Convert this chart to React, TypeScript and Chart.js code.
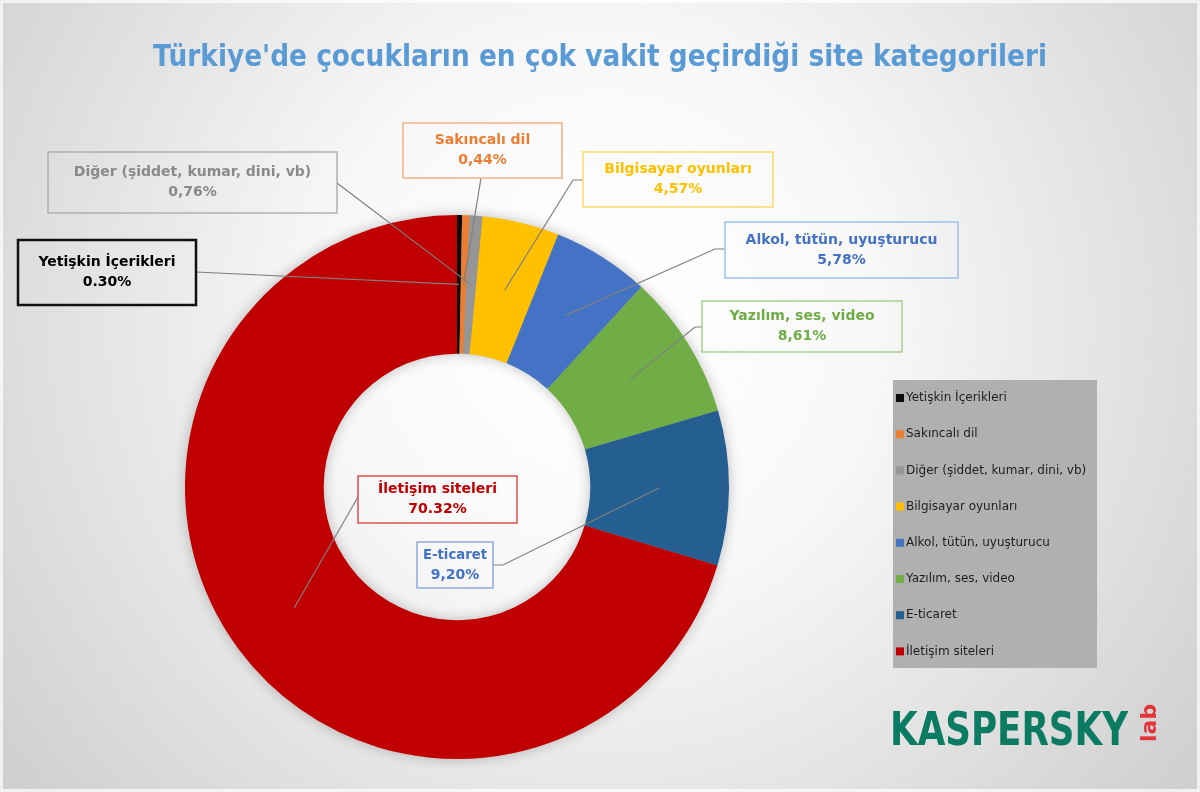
import React, { useEffect, useRef } from "react";
import { Chart, registerables } from "chart.js";

Chart.register(...registerables);

// ---------- data ----------
const chartTitle = "Türkiye'de çocukların en çok vakit geçirdiği site kategorileri";
const categories = [
  "Yetişkin İçerikleri",
  "Sakıncalı dil",
  "Diğer (şiddet, kumar, dini, vb)",
  "Bilgisayar oyunları",
  "Alkol, tütün, uyuşturucu",
  "Yazılım, ses, video",
  "E-ticaret",
  "İletişim siteleri",
];
const shares = [0.3, 0.44, 0.76, 4.57, 5.78, 8.61, 9.2, 70.32];
const decimalMarks = [".", ",", ",", ",", ",", ",", ",", "."];

// ---------- styles ----------
const sliceColors = ["#0d0d0d", "#ED7D31", "#969696", "#FFC000", "#4472C4", "#70AD47", "#255E91", "#C00000"];
const labelTextColors = ["#000000", "#ED7D31", "#8a8a8a", "#FFC000", "#4472C4", "#70AD47", "#4472C4", "#C00000"];
const labelBorderColors = ["#111111", "#F4B183", "#b0b0b0", "#FFD966", "#9DC3E6", "#A9D18E", "#8FAADC", "#E05050"];
const labelBorderWidths = [2.5, 1.5, 1.5, 1.5, 1.5, 1.5, 1.5, 1.5];
// callout boxes: [left, top, right, bottom]
const labelBoxes = [
  [18, 240, 196, 305],
  [403, 123, 562, 178],
  [48, 152, 337, 213],
  [583, 152, 773, 207],
  [725, 222, 958, 278],
  [702, 301, 902, 352],
  [417, 542, 493, 588],
  [358, 476, 517, 523],
];
// leader line anchor on box: [x, y, elbowX]
const leaderAnchors = [
  [196, 272, 196],
  [481, 178, 481],
  [337, 183, 337],
  [583, 180, 573],
  [725, 249, 715],
  [702, 327, 695],
  [493, 565, 503],
  [358, 497, 358],
];

const bgPlugin = {
  id: "customDecor",
  beforeDraw(chart: any) {
    const { ctx, width, height } = chart;
    ctx.save();
    const g = ctx.createRadialGradient(600, 320, 40, 600, 320, 820);
    g.addColorStop(0, "#ffffff");
    g.addColorStop(0.3, "#f8f8f8");
    g.addColorStop(1, "#c9c9c9");
    ctx.fillStyle = g;
    ctx.fillRect(0, 0, width, height);
    ctx.strokeStyle = "rgba(255,255,255,0.7)";
    ctx.lineWidth = 3;
    ctx.strokeRect(1.5, 1.5, width - 3, height - 3);
    ctx.restore();
  },
  beforeDatasetsDraw(chart: any) {
    const meta = chart.getDatasetMeta(0);
    const a = meta.data[0];
    if (!a) return;
    const { ctx } = chart;
    ctx.save();
    ctx.shadowColor = "rgba(0,0,0,0.28)";
    ctx.shadowBlur = 14;
    ctx.fillStyle = "#999";
    ctx.beginPath();
    ctx.arc(a.x, a.y, a.outerRadius - 1, 0, Math.PI * 2);
    ctx.arc(a.x, a.y, a.innerRadius + 1, 0, Math.PI * 2, true);
    ctx.fill();
    ctx.restore();
  },
  afterDraw(chart: any) {
    const { ctx } = chart;
    const meta = chart.getDatasetMeta(0);
    ctx.save();

    // title
    ctx.fillStyle = "#5B9BD5";
    ctx.font = "bold 30px 'DejaVu Sans'";
    ctx.textAlign = "center";
    ctx.textBaseline = "middle";
    ctx.fillText(chartTitle, 600, 58, 894);

    // leader lines
    ctx.strokeStyle = "#808080";
    ctx.lineWidth = 1.2;
    meta.data.forEach((arc: any, i: number) => {
      const mid = (arc.startAngle + arc.endAngle) / 2;
      const r = arc.innerRadius + (arc.outerRadius - arc.innerRadius) * 0.5;
      const px = arc.x + Math.cos(mid) * r;
      const py = arc.y + Math.sin(mid) * r;
      const [ax, ay, ex] = leaderAnchors[i];
      ctx.beginPath();
      ctx.moveTo(ax, ay);
      ctx.lineTo(ex, ay);
      ctx.lineTo(px, py);
      ctx.stroke();
    });

    // callout boxes
    categories.forEach((name, i) => {
      const [l, t, r, b] = labelBoxes[i];
      ctx.strokeStyle = labelBorderColors[i];
      ctx.lineWidth = labelBorderWidths[i];
      ctx.strokeRect(l, t, r - l, b - t);
      ctx.fillStyle = labelTextColors[i];
      ctx.font = "bold 14px 'DejaVu Sans'";
      ctx.textAlign = "center";
      ctx.textBaseline = "middle";
      const cx = (l + r) / 2;
      const cy = (t + b) / 2;
      const valueText = shares[i].toFixed(2).replace(".", decimalMarks[i]) + "%";
      ctx.fillText(name, cx, cy - 10, r - l - 12);
      ctx.fillText(valueText, cx, cy + 10, r - l - 12);
    });

    // legend
    ctx.fillStyle = "#b0b0b0";
    ctx.fillRect(893, 380, 204, 288);
    ctx.textAlign = "left";
    ctx.textBaseline = "middle";
    ctx.font = "12px 'DejaVu Sans'";
    categories.forEach((name, i) => {
      const y = 398 + i * 36.2;
      ctx.fillStyle = sliceColors[i];
      ctx.fillRect(896, y - 4, 8, 8);
      ctx.fillStyle = "#1e1e1e";
      ctx.fillText(name, 906, y, 186);
    });

    // logo
    ctx.fillStyle = "#0b7b63";
    ctx.font = "bold 46px 'DejaVu Sans'";
    ctx.textBaseline = "alphabetic";
    ctx.fillText("KASPERSKY", 890, 745, 238);
    ctx.save();
    ctx.translate(1156, 742);
    ctx.rotate(-Math.PI / 2);
    ctx.fillStyle = "#e2353a";
    ctx.font = "bold 22px 'DejaVu Sans'";
    ctx.fillText("lab", 0, 0);
    ctx.restore();

    ctx.restore();
  },
};

export default function App() {
  const ref = useRef<HTMLCanvasElement | null>(null);
  useEffect(() => {
    document.body.style.margin = "0";
    const canvas = ref.current;
    if (!canvas) return;
    const chart = new Chart(canvas, {
      type: "doughnut",
      data: {
        labels: categories,
        datasets: [
          {
            data: shares,
            backgroundColor: sliceColors,
            borderWidth: 0,
          },
        ],
      },
      options: {
        responsive: false,
        animation: false,
        cutout: "49%",
        rotation: 0,
        layout: { padding: { left: 185, right: 471, top: 215, bottom: 33 } },
        plugins: {
          legend: { display: false },
          title: { display: false },
          tooltip: { enabled: false },
        },
      },
      plugins: [bgPlugin],
    });
    return () => chart.destroy();
  }, []);
  return (
    <div style={{ width: 1200, height: 792 }}>
      <canvas ref={ref} width={1200} height={792} style={{ display: "block" }} />
    </div>
  );
}
